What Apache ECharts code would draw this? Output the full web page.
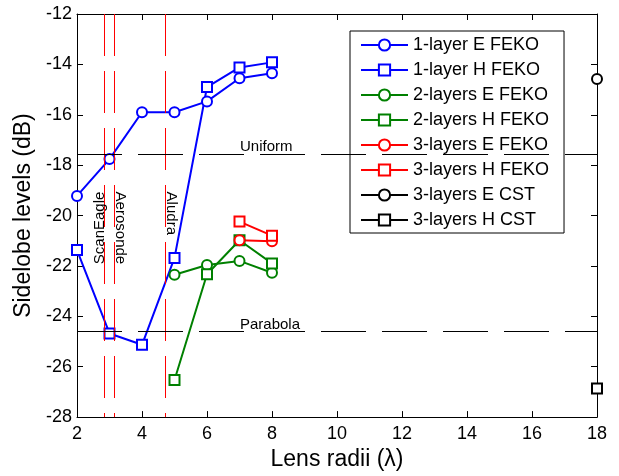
<!DOCTYPE html>
<html><head><meta charset="utf-8">
<script src="https://cdn.jsdelivr.net/npm/echarts@6/dist/echarts.min.js"></script>
<style>html,body{margin:0;padding:0;background:#fff}#c{width:619px;height:476px}</style>
</head><body><div id="c"></div>
<script>
// ---- data ----
const xTicks = [2, 4, 6, 8, 10, 12, 14, 16, 18];
const yTicks = [-28, -26, -24, -22, -20, -18, -16, -14, -12];
const radii1 = [2, 3, 4, 5, 6, 7, 8];
const oneLayerE = [-19.22, -17.76, -15.9, -15.9, -15.47, -14.55, -14.35];
const oneLayerH = [-21.37, -24.68, -25.13, -21.68, -14.9, -14.12, -13.92];
const radii2 = [5, 6, 7, 8];
const twoLayersE = [-22.35, -21.96, -21.8, -22.27];
const twoLayersH = [-26.53, -22.33, -20.98, -21.9];
const radii3 = [7, 8];
const threeLayersE = [-20.98, -21.02];
const threeLayersH = [-20.24, -20.8];
const radiiCST = [18];
const threeLayersECST = [-14.58];
const threeLayersHCST = [-26.86];
const uavNames = ['ScanEagle', 'Aerosonde', 'Aludra'];
const uavRadii = [2.83, 3.14, 4.73];
const refNames = ['Uniform', 'Parabola'];
const refLevels = [-17.55, -24.6];
const seriesNames = ['1-layer E FEKO', '1-layer H FEKO', '2-layers E FEKO', '2-layers H FEKO',
  '3-layers E FEKO', '3-layers H FEKO', '3-layers E CST', '3-layers H CST'];

// ---- chart ----
const FONT = '"Liberation Sans", Arial, sans-serif';
const chart = echarts.init(document.getElementById('c'), null, {renderer: 'canvas'});
const xMin = xTicks[0], xMax = xTicks[xTicks.length - 1];
const yMin = yTicks[0], yMax = yTicks[yTicks.length - 1];

function mk(name, xs, ys, color, symbol) {
  return {
    name: name, type: 'line', data: xs.map((x, i) => [x, ys[i]]),
    symbol: symbol, symbolSize: 10, showSymbol: true, clip: false,
    color: color,
    lineStyle: {width: 2, color: color},
    itemStyle: {color: color, borderColor: color, borderWidth: 2},
    emphasis: {disabled: true}, z: 3
  };
}
const axisCommon = {
  type: 'value', min: xMin, max: xMax, interval: 2,
  axisLine: {show: true, onZero: false, lineStyle: {color: '#000', width: 1}},
  axisTick: {show: true, inside: true, length: 6, lineStyle: {color: '#000', width: 1}},
  splitLine: {show: false}
};

const option = {
  animation: false,
  backgroundColor: '#fff',
  grid: {left: 77, right: 22, top: 14, bottom: 54, containLabel: false},
  xAxis: [
    Object.assign({}, axisCommon, {
      position: 'bottom',
      axisLabel: {color: '#000', fontSize: 18, fontFamily: FONT, margin: 8, showMinLabel: true, showMaxLabel: true},
      name: 'Lens radii (λ)', nameLocation: 'middle', nameGap: 30,
      nameTextStyle: {color: '#000', fontSize: 23, fontFamily: FONT}
    }),
    Object.assign({}, axisCommon, {position: 'top', axisLabel: {show: false}})
  ],
  yAxis: [
    Object.assign({}, axisCommon, {
      min: yMin, max: yMax, position: 'left',
      axisLabel: {color: '#000', fontSize: 18, fontFamily: FONT, margin: 5, showMinLabel: true, showMaxLabel: true},
      name: 'Sidelobe levels (dB)', nameLocation: 'middle', nameGap: 38,
      nameTextStyle: {color: '#000', fontSize: 23, fontFamily: FONT}
    }),
    Object.assign({}, axisCommon, {min: yMin, max: yMax, position: 'right', axisLabel: {show: false}})
  ],
  legend: {
    data: seriesNames, orient: 'vertical', left: 350, top: 31,
    itemWidth: 47, itemHeight: 14, itemGap: 7,
    padding: [5, 15, 4, 10],
    backgroundColor: '#fff', borderColor: '#000', borderWidth: 1, borderRadius: 0,
    textStyle: {color: '#000', fontSize: 18, lineHeight: 18, fontFamily: FONT},
    selectedMode: false
  },
  series: [
    {
      type: 'line', data: [], silent: true, z: 1,
      markLine: {
        silent: true, symbol: ['none', 'none'], animation: false,
        data: uavRadii.map(x => [{coord: [x, yMax]}, {coord: [x, yMin]}]),
        lineStyle: {color: '#ff0000', width: 1, type: [42, 15]},
        label: {show: false}
      }
    },
    {
      type: 'line', data: [], silent: true, z: 1,
      markLine: {
        silent: true, symbol: ['none', 'none'], animation: false,
        data: refLevels.map(v => ({yAxis: v})),
        lineStyle: {color: '#000', width: 1, type: [45, 16]},
        label: {show: false}
      }
    },
    mk(seriesNames[0], radii1, oneLayerE, '#0000ff', 'emptyCircle'),
    mk(seriesNames[1], radii1, oneLayerH, '#0000ff', 'emptyRect'),
    mk(seriesNames[2], radii2, twoLayersE, '#008000', 'emptyCircle'),
    mk(seriesNames[3], radii2, twoLayersH, '#008000', 'emptyRect'),
    mk(seriesNames[4], radii3, threeLayersE, '#ff0000', 'emptyCircle'),
    mk(seriesNames[5], radii3, threeLayersH, '#ff0000', 'emptyRect'),
    mk(seriesNames[6], radiiCST, threeLayersECST, '#000000', 'emptyCircle'),
    mk(seriesNames[7], radiiCST, threeLayersHCST, '#000000', 'emptyRect')
  ]
};
chart.setOption(option);

// annotation texts positioned from data coordinates
const toPx = p => chart.convertToPixel({xAxisIndex: 0, yAxisIndex: 0}, p);
const labelTopY = toPx([xMin, -19.05])[1];
const uavStyle = [
  {dx: -4, rot: Math.PI / 2, align: 'right'},
  {dx: 6, rot: -Math.PI / 2, align: 'left'},
  {dx: 5, rot: -Math.PI / 2, align: 'left'}
];
const graphics = uavNames.map((n, i) => {
  const px = toPx([uavRadii[i], -19.0]);
  return {
    type: 'text', x: px[0] + uavStyle[i].dx, y: labelTopY, rotation: uavStyle[i].rot,
    z: 10,
    style: {text: n, font: '15px ' + FONT, fill: '#000', align: uavStyle[i].align, verticalAlign: 'middle'}
  };
});
refNames.forEach((n, i) => {
  const py = toPx([xMin, refLevels[i]])[1];
  graphics.push({
    type: 'text', x: 240, y: py + 1, z: 10,
    style: {text: n, font: '15px ' + FONT, fill: '#000', align: 'left', verticalAlign: 'bottom'}
  });
});
chart.setOption({graphic: graphics});
</script>
</body></html>
